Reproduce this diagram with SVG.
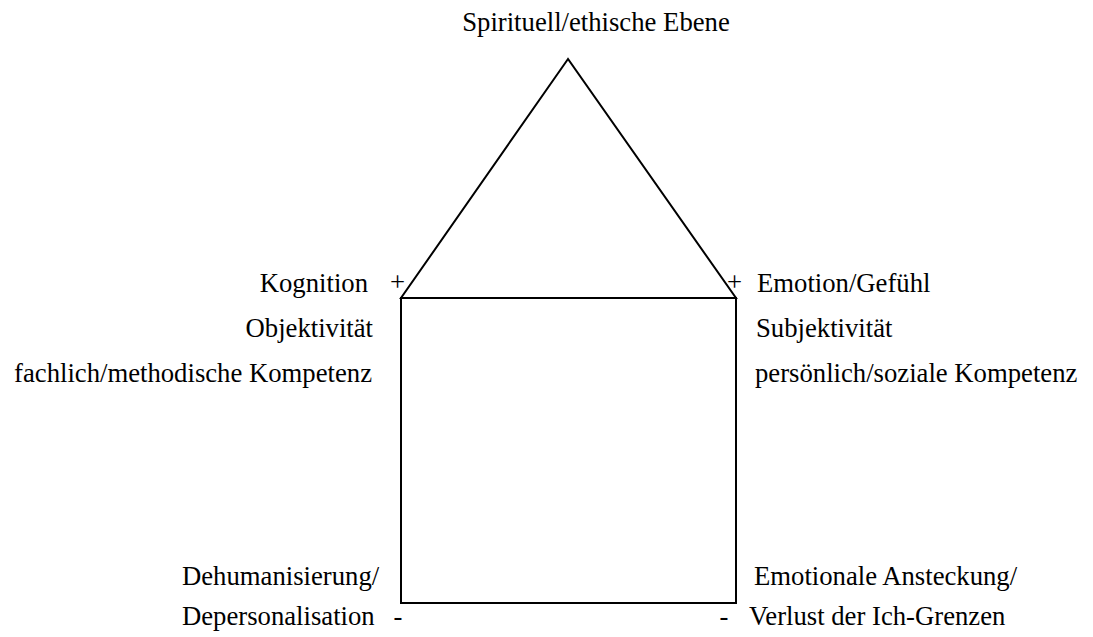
<svg xmlns="http://www.w3.org/2000/svg" width="1093" height="637" viewBox="0 0 1093 637">
  <style>
    text { font-family: "Liberation Serif", "Times New Roman", serif; font-size: 26.7px; fill: #000; }
    .end { text-anchor: end; }
    .mid { text-anchor: middle; }
    .shape { fill: none; stroke: #000; stroke-width: 2; stroke-linejoin: miter; }
  </style>
  <rect width="1093" height="637" fill="#fff"/>

  <!-- house outline: roof and body -->
  <g id="connectors">
    <polygon id="roof" class="shape" points="568,59 401,298 736,298"/>
    <rect id="body" class="shape" x="401" y="298" width="335" height="305"/>
  </g>

  <g id="title">
    <text x="596" y="31" class="mid">Spirituell/ethische Ebene</text>
  </g>

  <g id="left-top">
    <text x="368" y="292" class="end">Kognition</text>
    <text x="397.5" y="291" class="mid">+</text>
    <text x="373" y="337" class="end">Objektivität</text>
    <text x="372" y="382" class="end">fachlich/methodische Kompetenz</text>
  </g>

  <g id="right-top">
    <text x="734.5" y="291" class="mid">+</text>
    <text x="757" y="292">Emotion/Gefühl</text>
    <text x="756" y="337">Subjektivität</text>
    <text x="755" y="382">persönlich/soziale Kompetenz</text>
  </g>

  <g id="left-bottom">
    <text x="182" y="585">Dehumanisierung/</text>
    <text x="182" y="625">Depersonalisation</text>
    <text x="398" y="625" class="mid">-</text>
  </g>

  <g id="right-bottom">
    <text x="754" y="585">Emotionale Ansteckung/</text>
    <text x="724" y="625" class="mid">-</text>
    <text x="749" y="625">Verlust der Ich-Grenzen</text>
  </g>
</svg>
